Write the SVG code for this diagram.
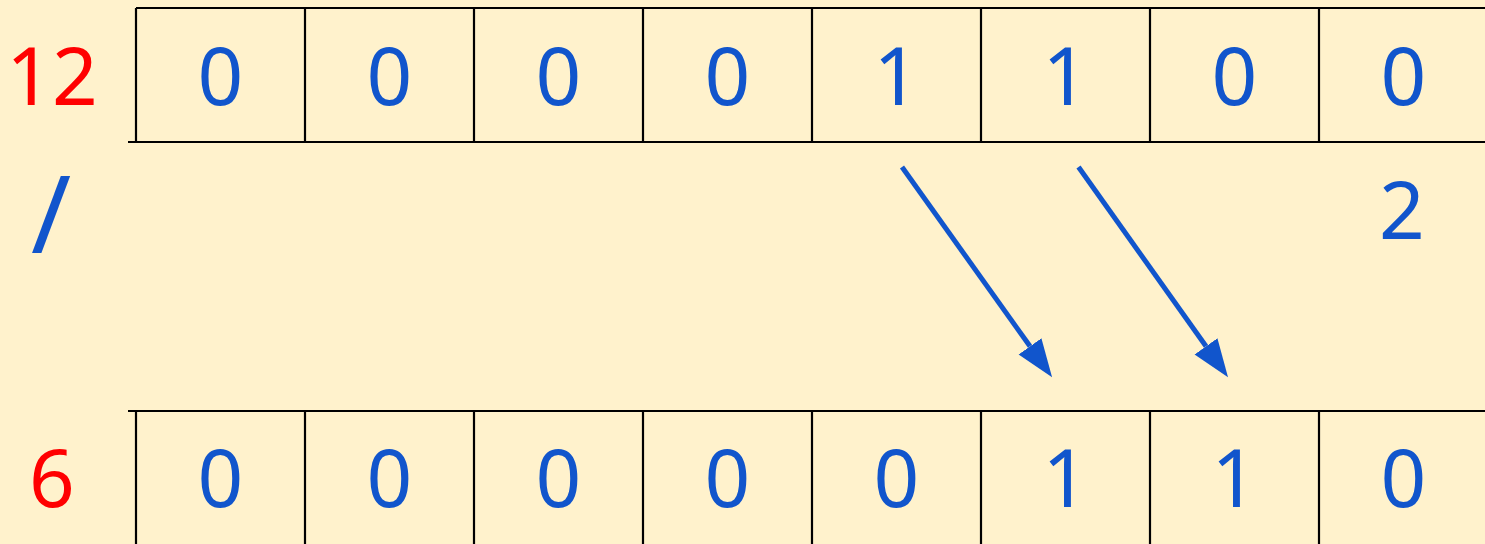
<svg xmlns="http://www.w3.org/2000/svg" width="1485" height="544" viewBox="0 0 1485 544">
<style>
.ln{stroke:#000;stroke-width:2.2;fill:none}
.bit{font-family:"Noto Sans","Open Sans",sans-serif;font-size:80px;fill:#1155CC;text-anchor:middle}
.num{font-family:"Noto Sans","Open Sans",sans-serif;font-size:80px;fill:#FF0000;text-anchor:middle}
.slash{font-family:"Noto Sans","Open Sans",sans-serif;font-size:108px;fill:#1155CC;text-anchor:middle}
.arr{stroke:#1155CC;stroke-width:5;fill:none}
</style>
<defs>
<marker id="ah" markerUnits="userSpaceOnUse" markerWidth="40" markerHeight="30" refX="0" refY="14" orient="auto" viewBox="0 0 40 30">
<path d="M0,0 L38,14 L0,28 Z" fill="#1155CC"/>
</marker>
</defs>
<rect x="0" y="0" width="1485" height="544" fill="#FFF2CC"/>
<g id="top-row">
<path class="ln" d="M136,8 H1485 M128,142 H1485 M136,8 V142 M305,8 V142 M474,8 V142 M643,8 V142 M812,8 V142 M981,8 V142 M1150,8 V142 M1319,8 V142"/>
<text class="bit" x="220.5" y="105">0</text>
<text class="bit" x="389.5" y="105">0</text>
<text class="bit" x="558.5" y="105">0</text>
<text class="bit" x="727.5" y="105">0</text>
<text class="bit" x="896.5" y="105">1</text>
<text class="bit" x="1065.5" y="105">1</text>
<text class="bit" x="1234.5" y="105">0</text>
<text class="bit" x="1403.5" y="105">0</text>
</g>
<g id="bottom-row">
<path class="ln" d="M128,411 H1485 M136,411 V544 M305,411 V544 M474,411 V544 M643,411 V544 M812,411 V544 M981,411 V544 M1150,411 V544 M1319,411 V544"/>
<text class="bit" x="220.5" y="507">0</text>
<text class="bit" x="389.5" y="507">0</text>
<text class="bit" x="558.5" y="507">0</text>
<text class="bit" x="727.5" y="507">0</text>
<text class="bit" x="896.5" y="507">0</text>
<text class="bit" x="1065.5" y="507">1</text>
<text class="bit" x="1234.5" y="507">1</text>
<text class="bit" x="1403.5" y="507">0</text>
</g>
<g id="labels">
<text class="num" x="52" y="105">12</text>
<text class="num" x="52" y="507">6</text>
<text class="slash" x="51" y="253">/</text>
<text class="bit" x="1402" y="239">2</text>
</g>
<g id="connectors">
<line class="arr" x1="902" y1="167" x2="1030" y2="346.3" marker-end="url(#ah)"/>
<line class="arr" x1="1078.5" y1="167" x2="1206" y2="346.3" marker-end="url(#ah)"/>
</g>
</svg>
